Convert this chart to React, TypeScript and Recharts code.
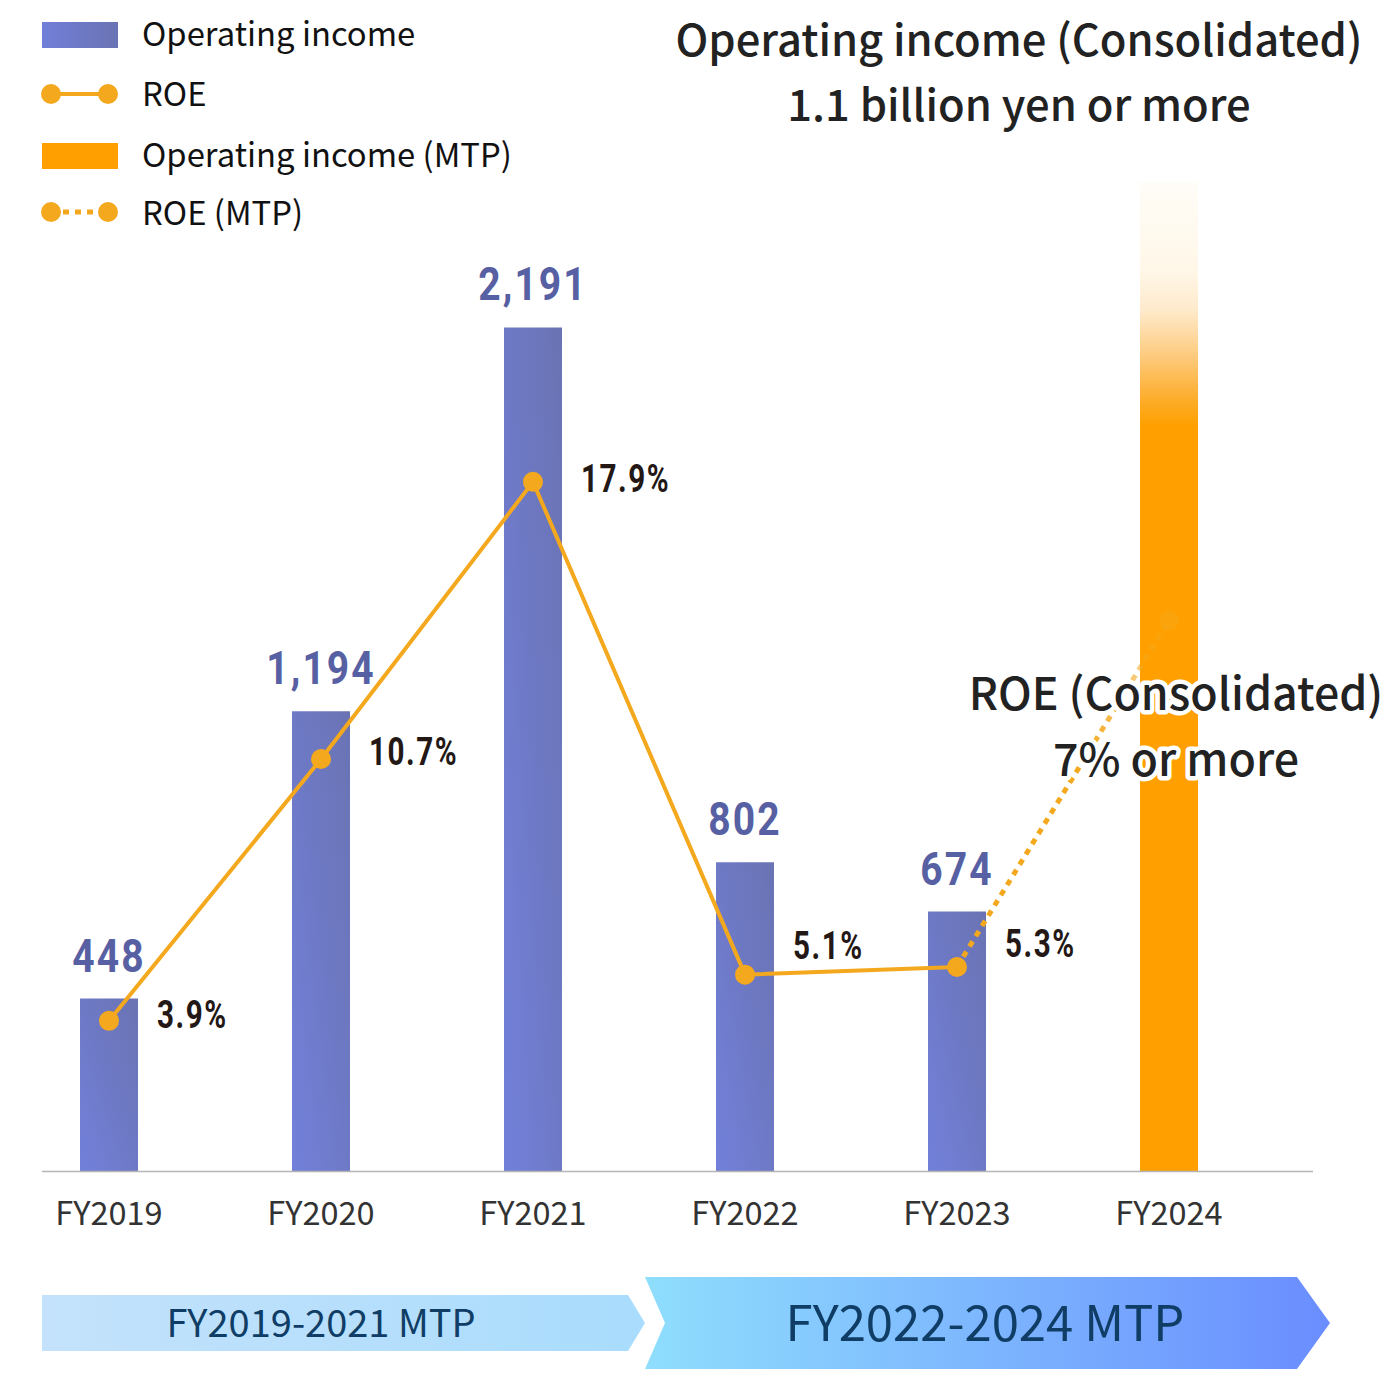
import { ComposedChart, Bar, Line, XAxis, YAxis, LabelList } from 'recharts';

const years = ['FY2019', 'FY2020', 'FY2021', 'FY2022', 'FY2023', 'FY2024'];
const operatingIncome = [448, 1194, 2191, 802, 674, null];
const operatingIncomeMtp = [null, null, null, null, null, 2570];
const roe = [3.9, 10.7, 17.9, 5.1, 5.3, null];
const roeMtp = [null, null, null, null, 5.3, 14.3];

const data = years.map((year, i) => ({
  year,
  income: operatingIncome[i],
  incomeMtp: operatingIncomeMtp[i],
  roe: roe[i],
  roeMtp: roeMtp[i],
}));

const JP = '"Noto Sans CJK JP", "Noto Sans", sans-serif';
const NUM = 'Roboto, "Noto Sans", sans-serif';
const ORANGE = '#f4a81d';

// small per-point nudges so the % labels sit like the original
const roeLabelDy = [7, 6, 10, -16, -10];

const BarValueLabel = (props: any) => {
  const { x, y, width, value } = props;
  if (value == null) return null;
  // narrow DIN-like digits: squeeze Roboto horizontally
  return (
    <g transform={`translate(${x + width / 2},${y - 27}) scale(0.83,1)`}>
      <text
        x={0}
        y={0}
        textAnchor="middle"
        fontFamily={NUM}
        fontWeight={700}
        fontSize={47}
        letterSpacing={2.5}
        fill="#5760a3"
      >
        {Number(value).toLocaleString('en-US')}
      </text>
    </g>
  );
};

const RoeLabel = (props: any) => {
  const { x, y, value, index } = props;
  if (value == null) return null;
  return (
    <g transform={`translate(${x + 48},${y + (roeLabelDy[index] ?? 0)}) scale(0.78,1)`}>
      <text x={0} y={0} fontFamily={NUM} fontWeight={700} fontSize={38} letterSpacing={2} fill="#231815">
        {value}%
      </text>
    </g>
  );
};

const RoeDot = (props: any) => {
  const { cx, cy, value } = props;
  if (value == null || cx == null) return <g />;
  return <circle cx={cx} cy={cy} r={10} fill={ORANGE} />;
};

const MtpDot = (props: any) => {
  const { cx, cy, index } = props;
  if (index !== 5 || cx == null) return <g />;
  return <circle cx={cx} cy={cy} r={10} fill={ORANGE} opacity={0.35} />;
};

const Tick = (props: any) => {
  const { x, y, payload } = props;
  return (
    <text x={x} y={y + 46} textAnchor="middle" fontFamily={JP} fontSize={32.5} fill="#333">
      {payload.value}
    </text>
  );
};

function Overlay() {
  const legendText = { fontFamily: JP, fontSize: 32.8, fill: '#111' };
  const title = { fontFamily: JP, fontSize: 43.5, fontWeight: 500, fill: '#222' };
  const roeNote = { fontFamily: JP, fontSize: 44.7, fontWeight: 500, fill: '#222' };
  return (
    <svg width={1400} height={1400} style={{ position: 'absolute', left: 0, top: 0, pointerEvents: 'none' }}>
      <defs>
        <linearGradient id="legendPurple" x1="0" y1="0" x2="1" y2="0">
          <stop offset="0" stopColor="#717fd8" />
          <stop offset="1" stopColor="#6a73b3" />
        </linearGradient>
        <linearGradient id="banner1" x1="0" y1="0" x2="1" y2="0">
          <stop offset="0" stopColor="#c4e2fb" />
          <stop offset="1" stopColor="#a9dcfd" />
        </linearGradient>
        <linearGradient id="banner2" x1="0" y1="0" x2="1" y2="0">
          <stop offset="0" stopColor="#8fdefd" />
          <stop offset="1" stopColor="#6a8dff" />
        </linearGradient>
      </defs>

      {/* legend */}
      <rect x={42} y={22} width={76} height={26} fill="url(#legendPurple)" />
      <text x={142} y={46} {...legendText}>Operating income</text>
      <line x1={51} y1={94} x2={108} y2={94} stroke={ORANGE} strokeWidth={4} />
      <circle cx={51} cy={94} r={10} fill={ORANGE} />
      <circle cx={108} cy={94} r={10} fill={ORANGE} />
      <text x={142} y={106} {...legendText}>ROE</text>
      <rect x={42} y={143} width={76} height={26} fill="#ffa000" />
      <text x={142} y={167} {...legendText}>Operating income (MTP)</text>
      <line x1={51} y1={212} x2={108} y2={212} stroke={ORANGE} strokeWidth={5} strokeDasharray="6 6" />
      <circle cx={51} cy={212} r={10} fill={ORANGE} />
      <circle cx={108} cy={212} r={10} fill={ORANGE} />
      <text x={142} y={225} {...legendText}>ROE (MTP)</text>

      {/* target notes */}
      <text x={1019} y={56} textAnchor="middle" {...title}>Operating income (Consolidated)</text>
      <text x={1019} y={121} textAnchor="middle" {...title}>1.1 billion yen or more</text>
      <g stroke="#fff" strokeWidth={9} strokeLinejoin="round" style={{ paintOrder: 'stroke' }}>
        <text x={1176} y={710} textAnchor="middle" {...roeNote}>ROE (Consolidated)</text>
        <text x={1176} y={776} textAnchor="middle" {...roeNote}>7% or more</text>
      </g>

      {/* axis line */}
      <line x1={42} y1={1171.5} x2={1313} y2={1171.5} stroke="#b5b5b5" strokeWidth={1.5} />

      {/* MTP banners */}
      <polygon points="42,1295 628,1295 645,1323 628,1351 42,1351" fill="url(#banner1)" />
      <text x={321} y={1337} textAnchor="middle" fontFamily={JP} fontSize={38} fill="#0f3d66">
        FY2019-2021 MTP
      </text>
      <polygon points="645,1277 1297,1277 1330,1323 1297,1369 645,1369 665,1323" fill="url(#banner2)" />
      <text x={985} y={1341} textAnchor="middle" fontFamily={JP} fontSize={49} fill="#0f3d66">
        FY2022-2024 MTP
      </text>
    </svg>
  );
}

export default function App() {
  return (
    <div style={{ position: 'absolute', left: 0, top: 0, width: 1400, height: 1400, background: '#fff' }}>
      <ComposedChart
        width={1400}
        height={1400}
        data={data}
        margin={{ top: 170, right: 125, bottom: 189, left: 3 }}
      >
        <defs>
          <linearGradient id="incomeFill" x1="0" y1="1" x2="1" y2="0">
            <stop offset="0" stopColor="#7280da" />
            <stop offset="1" stopColor="#6a73b2" />
          </linearGradient>
          <linearGradient id="mtpFill" x1="0" y1="0" x2="0" y2="1">
            <stop offset="0" stopColor="#fffdf8" />
            <stop offset="0.09" stopColor="#fff7e8" />
            <stop offset="0.13" stopColor="#feeacb" />
            <stop offset="0.18" stopColor="#fdc877" />
            <stop offset="0.22" stopColor="#fdad2a" />
            <stop offset="0.247" stopColor="#ffa000" />
            <stop offset="1" stopColor="#ffa000" />
          </linearGradient>
          <linearGradient id="mtpLine" x1="0" y1="1" x2="1" y2="0">
            <stop offset="0" stopColor={ORANGE} stopOpacity={1} />
            <stop offset="0.6" stopColor={ORANGE} stopOpacity={1} />
            <stop offset="1" stopColor={ORANGE} stopOpacity={0.35} />
          </linearGradient>
        </defs>
        <XAxis dataKey="year" height={40} axisLine={false} tickLine={false} tick={<Tick />} interval={0} />
        <YAxis yAxisId="left" hide domain={[0, 2600]} />
        <YAxis yAxisId="right" hide orientation="right" domain={[0, 26]} />
        <Bar yAxisId="left" dataKey="income" stackId="oi" barSize={58} fill="url(#incomeFill)" isAnimationActive={false}>
          <LabelList dataKey="income" content={<BarValueLabel />} />
        </Bar>
        <Bar yAxisId="left" dataKey="incomeMtp" stackId="oi" barSize={58} fill="url(#mtpFill)" isAnimationActive={false} />
        <Line
          yAxisId="right"
          dataKey="roeMtp"
          stroke="url(#mtpLine)"
          strokeWidth={5}
          strokeDasharray="6 6"
          dot={<MtpDot />}
          activeDot={false}
          connectNulls={false}
          isAnimationActive={false}
        />
        <Line
          yAxisId="right"
          dataKey="roe"
          stroke={ORANGE}
          strokeWidth={4}
          dot={<RoeDot />}
          activeDot={false}
          isAnimationActive={false}
        >
          <LabelList dataKey="roe" content={<RoeLabel />} />
        </Line>
      </ComposedChart>
      <Overlay />
    </div>
  );
}
